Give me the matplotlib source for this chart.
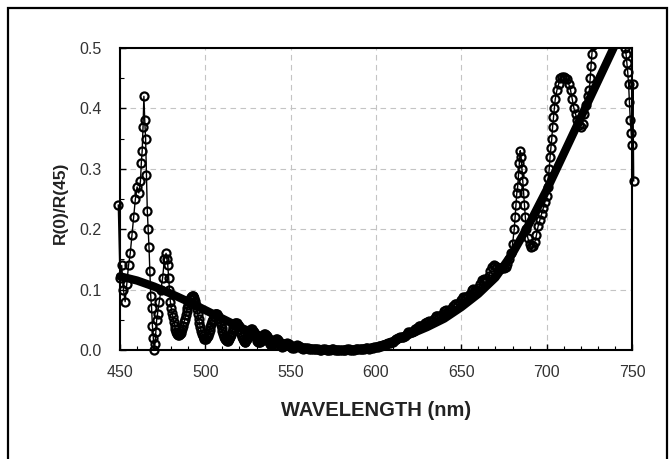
import matplotlib
matplotlib.use("Agg")
import matplotlib.pyplot as plt
from matplotlib.patches import Rectangle
import numpy as np

# ---- data -------------------------------------------------------------
# measured ratio (open circles), read from the chart
wl_a = [449.0, 450.0, 451.0, 452.0, 453.0, 454.0, 455.0, 456.0, 457.0, 458.0, 459.0,
        460.0, 461.0, 462.0, 462.5, 463.0, 463.5, 464.0, 464.5, 465.0, 465.5,
        466.0, 466.5, 467.0, 467.5, 468.0, 468.5, 469.0, 469.5, 470.0, 470.5,
        471.0, 471.5, 472.0, 473.0, 474.0, 475.0, 476.0, 477.0, 477.5, 478.0,
        478.5, 479.0, 479.5, 480.0]
val_a = [0.24, 0.12, 0.14, 0.10, 0.08, 0.11, 0.14, 0.16, 0.19, 0.22, 0.25,
         0.27, 0.26, 0.28, 0.31, 0.33, 0.37, 0.42, 0.38, 0.35, 0.29,
         0.23, 0.20, 0.17, 0.13, 0.09, 0.07, 0.04, 0.02, 0.00, 0.01,
         0.03, 0.05, 0.06, 0.08, 0.10, 0.12, 0.15, 0.16, 0.15, 0.14,
         0.12, 0.10, 0.08, 0.07]

wl_b = list(np.arange(480.5, 545.01, 0.5))
val_b = [0.062, 0.054, 0.047, 0.040, 0.034, 0.030, 0.027, 0.025, 0.025, 0.026,
         0.028, 0.031, 0.035, 0.040, 0.046, 0.052, 0.058, 0.064, 0.070, 0.075,
         0.080, 0.084, 0.087, 0.089, 0.090, 0.089, 0.086, 0.081, 0.075, 0.068,
         0.060, 0.052, 0.045, 0.038, 0.032, 0.027, 0.023, 0.020, 0.018, 0.018,
         0.019, 0.021, 0.024, 0.028, 0.033, 0.038, 0.043, 0.048, 0.052, 0.056,
         0.059, 0.060, 0.060, 0.059, 0.056, 0.052, 0.047, 0.042, 0.036, 0.031,
         0.026, 0.022, 0.019, 0.016, 0.015, 0.015, 0.016, 0.018, 0.021, 0.025,
         0.029, 0.034, 0.038, 0.042, 0.044, 0.045, 0.044, 0.042, 0.039, 0.035,
         0.030, 0.026, 0.022, 0.018, 0.015, 0.014, 0.014, 0.016, 0.019, 0.022,
         0.026, 0.030, 0.033, 0.034, 0.034, 0.032, 0.029, 0.026, 0.022, 0.018,
         0.015, 0.013, 0.013, 0.013, 0.015, 0.018, 0.021, 0.024, 0.026, 0.026,
         0.025, 0.023, 0.020, 0.016, 0.013, 0.010, 0.009, 0.009, 0.010, 0.012,
         0.015, 0.017, 0.018, 0.018, 0.016, 0.014, 0.011, 0.008, 0.006, 0.005]

wl_c = list(range(546, 681))
val_c = [0.006, 0.010, 0.012, 0.010, 0.005,
         0.003, 0.004, 0.007, 0.008, 0.006, 0.003, 0.002, 0.003, 0.004, 0.004,
         # 561-600
         0.002, 0.001, 0.001, 0.002, 0.002, 0.001, 0.000, 0.000, 0.001, 0.001,
         0.000, 0.000, 0.000, 0.001, 0.001, 0.000, 0.000, 0.000, 0.000, 0.000,
         0.000, 0.000, 0.001, 0.001, 0.000, 0.000, 0.000, 0.001, 0.002, 0.002,
         0.001, 0.001, 0.002, 0.003, 0.003, 0.002, 0.003, 0.004, 0.005, 0.005,
         # 601-640
         0.005, 0.006, 0.007, 0.008, 0.009, 0.010, 0.011, 0.012, 0.013, 0.014,
         0.016, 0.018, 0.020, 0.021, 0.021, 0.022, 0.024, 0.027, 0.029, 0.030,
         0.030, 0.031, 0.034, 0.037, 0.039, 0.039, 0.039, 0.041, 0.044, 0.047,
         0.048, 0.047, 0.048, 0.052, 0.056, 0.057, 0.056, 0.056, 0.060, 0.064,
         # 641-680
         0.066, 0.065, 0.065, 0.068, 0.073, 0.076, 0.076, 0.075, 0.077, 0.082,
         0.087, 0.088, 0.087, 0.088, 0.093, 0.099, 0.101, 0.100, 0.099, 0.103,
         0.110, 0.116, 0.118, 0.116, 0.116, 0.122, 0.130, 0.137, 0.140, 0.139,
         0.137, 0.136, 0.136, 0.135, 0.135, 0.138, 0.143, 0.150, 0.160, 0.175]

wl_d = [681.0, 681.5, 682.0, 682.5, 683.0, 683.5, 684.0, 684.5, 685.0, 685.5,
        686.0, 686.5, 687.0, 687.5, 688.0, 689.0, 690.0, 691.0, 692.0, 693.0,
        694.0, 695.0, 696.0, 697.0, 698.0, 699.0, 700.0, 700.5, 701.0, 701.5,
        702.0, 702.5, 703.0, 703.5, 704.0, 704.5, 705.0, 706.0, 707.0, 708.0,
        709.0, 710.0, 711.0, 712.0, 713.0, 714.0, 715.0, 716.0, 717.0, 718.0,
        719.0, 720.0, 721.0, 722.0, 723.0, 724.0, 725.0, 725.5, 726.0, 726.5,
        727.0, 728.0, 745.0, 746.0, 746.5, 747.0, 747.5, 748.0, 748.5, 749.0,
        749.5, 750.0, 750.5, 751.0]
val_d = [0.20, 0.22, 0.24, 0.26, 0.27, 0.29, 0.31, 0.33, 0.32, 0.30,
         0.28, 0.26, 0.24, 0.22, 0.20, 0.185, 0.175, 0.17, 0.172, 0.178,
         0.19, 0.205, 0.215, 0.225, 0.235, 0.245, 0.255, 0.27, 0.285, 0.30,
         0.32, 0.335, 0.35, 0.37, 0.385, 0.40, 0.415, 0.43, 0.44, 0.45,
         0.452, 0.452, 0.45, 0.448, 0.44, 0.43, 0.415, 0.40, 0.39, 0.38,
         0.372, 0.37, 0.375, 0.39, 0.405, 0.42, 0.43, 0.45, 0.47, 0.49,
         0.505, 0.54, 0.54, 0.50, 0.49, 0.475, 0.46, 0.44, 0.41, 0.38,
         0.36, 0.34, 0.44, 0.28]

meas_wl = wl_a + wl_b + wl_c + wl_d
meas_val = val_a + val_b + val_c + val_d

# smooth curve (thick line)
fit_wl = [450, 460, 470, 480, 490, 500, 510, 520, 530, 540, 550, 560, 570, 580,
          590, 600, 610, 620, 630, 640, 650, 660, 670, 680, 690, 700, 710, 720,
          730, 740]
fit_val = [0.122, 0.115, 0.105, 0.093, 0.080, 0.066, 0.052, 0.038, 0.026, 0.016,
           0.008, 0.003, 0.000, 0.000, 0.001, 0.005, 0.014, 0.026, 0.038, 0.052,
           0.071, 0.093, 0.120, 0.160, 0.210, 0.265, 0.325, 0.385, 0.445, 0.505]

x_ticks = [450, 500, 550, 600, 650, 700, 750]
y_ticks = [0.0, 0.1, 0.2, 0.3, 0.4, 0.5]
x_label = "WAVELENGTH (nm)"
y_label = "R(0)/R(45)"

# ---- figure -----------------------------------------------------------
W, H = 669, 459
fig = plt.figure(figsize=(W / 100, H / 100), dpi=100)
plt.rcParams['font.family'] = ['Liberation Sans', 'DejaVu Sans']

# outer frame
fig.patches.append(Rectangle((8 / W, -0.05), (667 - 8) / W, 1.05 - 8 / H,
                             transform=fig.transFigure, fill=False,
                             edgecolor='black', linewidth=1.6))

L, R, T, B = 120, 632, 48, 350
ax = fig.add_axes([L / W, 1 - B / H, (R - L) / W, (B - T) / H])
ax.set_xlim(450, 750)
ax.set_ylim(0, 0.5)

ax.grid(True, which='major', color='#c4c4c4', linestyle=(0, (5, 4)), linewidth=0.8)
ax.set_axisbelow(True)

clip = Rectangle((-0.03, -0.045), 1.06, 1.045, transform=ax.transAxes,
                 fill=False, visible=False)
ax.add_patch(clip)

ln1, = ax.plot(fit_wl, fit_val, color='black', linewidth=6.0,
               solid_capstyle='round', zorder=3)
ln2, = ax.plot(meas_wl, meas_val, color='black', linewidth=1.0, marker='o',
               markersize=5.8, markerfacecolor='none', markeredgecolor='black',
               markeredgewidth=1.6, zorder=4)
for ln in (ln1, ln2):
    ln.set_clip_path(clip)

ax.set_xticks(x_ticks)
ax.set_yticks(y_ticks)
ax.set_xticklabels([str(v) for v in x_ticks])
ax.set_yticklabels([f"{v:.1f}" for v in y_ticks])
ax.set_xticks(np.arange(450, 751, 10), minor=True)
ax.set_yticks(np.arange(0, 0.51, 0.05), minor=True)
ax.tick_params(axis='both', which='major', direction='in', length=4, width=1,
               labelsize=11.5, labelcolor='#333333')
ax.tick_params(axis='both', which='minor', direction='in', length=3, width=0.8)
ax.tick_params(axis='x', which='major', pad=11)
ax.tick_params(axis='y', which='major', pad=13)
for s in ax.spines.values():
    s.set_linewidth(1.5)
    s.set_color('black')

fig.text(376 / W, 1 - 411 / H, x_label, ha='center', va='center',
         fontsize=14.5, fontweight='bold', color='#222222')
fig.text(60 / W, 1 - 203 / H, y_label, ha='center', va='center', rotation=90,
         fontsize=12.5, fontweight='bold', color='#222222')

fig.savefig("out.png", dpi=100)
